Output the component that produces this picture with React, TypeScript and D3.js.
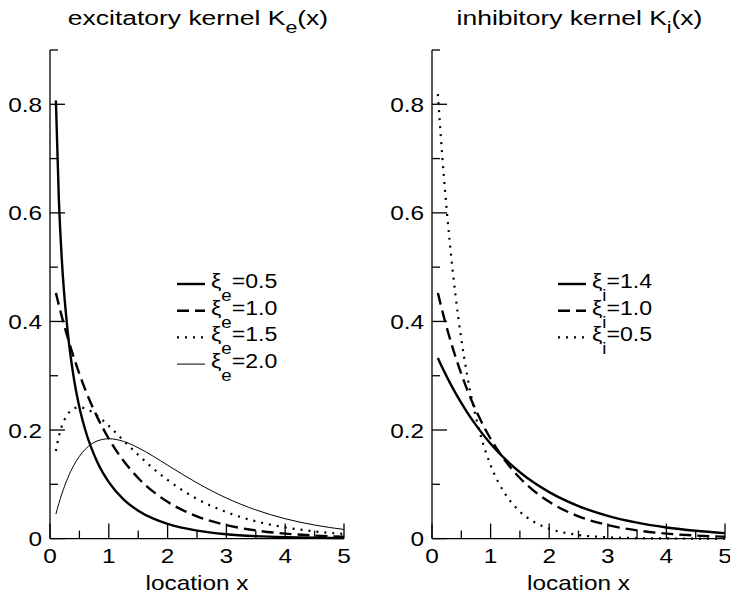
import React from 'react';
import * as d3 from 'd3';

const xGrid = [0.1, 0.15, 0.2, 0.3, 0.4, 0.5, 0.6, 0.8, 1, 1.25, 1.5, 1.75, 2, 2.5, 3, 3.5, 4, 4.5, 5];
const excXi05 = [0.807, 0.627, 0.516, 0.382, 0.299, 0.242, 0.2, 0.142, 0.104, 0.0722, 0.0514, 0.0371, 0.027, 0.0146, 0.0081, 0.0046, 0.0026, 0.0015, 0.00085];
const excXi10 = [0.4524, 0.4304, 0.4094, 0.3704, 0.3352, 0.3033, 0.2744, 0.2247, 0.1839, 0.1433, 0.1116, 0.0869, 0.0677, 0.041, 0.0249, 0.0151, 0.0092, 0.0056, 0.0034];
const excXi15 = [0.1614, 0.1881, 0.2066, 0.2289, 0.2392, 0.242, 0.2398, 0.2267, 0.2076, 0.1807, 0.1542, 0.1297, 0.108, 0.0732, 0.0487, 0.0319, 0.0207, 0.0133, 0.0085];
const excXi20 = [0.0452, 0.0646, 0.0819, 0.1111, 0.1341, 0.1516, 0.1646, 0.1797, 0.1839, 0.1791, 0.1673, 0.1521, 0.1353, 0.1026, 0.0747, 0.0529, 0.0366, 0.025, 0.0168];
const inhXi14 = [0.3325, 0.3208, 0.3096, 0.2882, 0.2684, 0.2499, 0.2326, 0.2017, 0.1748, 0.1462, 0.1223, 0.1023, 0.0856, 0.0599, 0.0419, 0.0293, 0.0205, 0.0144, 0.01];
const inhXi10 = [0.4524, 0.4304, 0.4094, 0.3704, 0.3352, 0.3033, 0.2744, 0.2247, 0.1839, 0.1433, 0.1116, 0.0869, 0.0677, 0.041, 0.0249, 0.0151, 0.0092, 0.0056, 0.0034];
const inhXi05 = [0.8187, 0.7408, 0.6703, 0.5488, 0.4493, 0.3679, 0.3012, 0.2019, 0.1353, 0.0821, 0.0498, 0.0302, 0.0183, 0.0067, 0.0025, 0.0009, 0.0003, 0.0001, 0.00005];

const excLabels = ['0.5', '1.0', '1.5', '2.0'];
const inhLabels = ['1.4', '1.0', '0.5'];
const yMajorTicks = [0, 0.2, 0.4, 0.6, 0.8];
const yMajorLabels = ['0', '0.2', '0.4', '0.6', '0.8'];
const yMinorTicks = [0.1, 0.3, 0.5, 0.7, 0.9];
const xMajorTicks = [0, 1, 2, 3, 4, 5];
const xMajorLabels = ['0', '1', '2', '3', '4', '5'];
const xMinorTicks = [0.5, 1.5, 2.5, 3.5, 4.5];

const FONT = '"Liberation Sans", Arial, Helvetica, sans-serif';

type Style = { w: number; dash?: string };
const STYLES: Record<string, Style> = {
  solid: { w: 2.4 },
  dashed: { w: 2.4, dash: '12,6' },
  dotted: { w: 2.2, dash: '2,6' },
  thin: { w: 1 },
};

const yScale = d3.scaleLinear().domain([0, 0.9]).range([538.6, 50]);

function T({ x, y, anchor = 'start', size = 21, sx = 1.16, children }: {
  x: number; y: number; anchor?: string; size?: number; sx?: number; children: React.ReactNode;
}) {
  return (
    <text transform={`translate(${x},${y}) scale(${sx},1)`} textAnchor={anchor}
      fontSize={size} fontFamily={FONT} fill="#000">{children}</text>
  );
}

type Series = { values: number[]; style: string; label: string };

function Panel({ x0, x1, title, sub, series, sym, legendX }: {
  x0: number; x1: number; title: string; sub: string; series: Series[]; sym: string; legendX: number;
}) {
  const xScale = d3.scaleLinear().domain([0, 5]).range([x0, x1]);
  const line = d3.line<number>()
    .x((_, i) => xScale(xGrid[i]))
    .y((d) => yScale(d))
    .curve(d3.curveMonotoneX);
  const y0 = yScale(0);
  const cx = (x0 + x1) / 2;
  return (
    <g>
      <T x={cx + 1} y={25} anchor="middle" sx={1.26}>
        {title}<tspan dy={8} fontSize={17}>{sub}</tspan><tspan dy={-8}>(x)</tspan>
      </T>
      {series.map((s, i) => {
        const st = STYLES[s.style];
        return (
          <path key={i} d={line(s.values) || ''} fill="none" stroke="#000"
            strokeWidth={st.w} strokeDasharray={st.dash} />
        );
      })}
      <line x1={x0} x2={x0} y1={yScale(0.9)} y2={y0} stroke="#000" strokeWidth={1.3} />
      <line x1={x0} x2={x1} y1={y0} y2={y0} stroke="#000" strokeWidth={1.3} />
      {yMajorTicks.map((t, i) => (
        <g key={'ym' + i}>
          <line x1={x0} x2={x0 + 15} y1={yScale(t)} y2={yScale(t)} stroke="#000" strokeWidth={1.3} />
          <T x={x0 - 8} y={yScale(t) + 7.5} anchor="end">{yMajorLabels[i]}</T>
        </g>
      ))}
      {yMinorTicks.map((t, i) => (
        <line key={'yn' + i} x1={x0} x2={x0 + 8} y1={yScale(t)} y2={yScale(t)} stroke="#000" strokeWidth={1.3} />
      ))}
      {xMajorTicks.map((t, i) => (
        <g key={'xm' + i}>
          <line x1={xScale(t)} x2={xScale(t)} y1={y0} y2={y0 - 15} stroke="#000" strokeWidth={1.3} />
          <T x={xScale(t)} y={563} anchor="middle">{xMajorLabels[i]}</T>
        </g>
      ))}
      {xMinorTicks.map((t, i) => (
        <line key={'xn' + i} x1={xScale(t)} x2={xScale(t)} y1={y0} y2={y0 - 8} stroke="#000" strokeWidth={1.3} />
      ))}
      <T x={cx} y={590} anchor="middle">location x</T>
      {series.map((s, i) => {
        const st = STYLES[s.style];
        const ly = 284 + i * 26.7;
        return (
          <g key={'lg' + i}>
            <line x1={legendX} x2={legendX + 28} y1={ly} y2={ly} stroke="#000" strokeWidth={st.w} strokeDasharray={st.dash} />
            <T x={legendX + 34} y={ly + 4} sx={1.1}>
              ξ<tspan dy={13} fontSize={17}>{sym}</tspan><tspan dy={-13}>={s.label}</tspan>
            </T>
          </g>
        );
      })}
    </g>
  );
}

export default function App() {
  const exc: Series[] = [
    { values: excXi05, style: 'solid', label: excLabels[0] },
    { values: excXi10, style: 'dashed', label: excLabels[1] },
    { values: excXi15, style: 'dotted', label: excLabels[2] },
    { values: excXi20, style: 'thin', label: excLabels[3] },
  ];
  const inh: Series[] = [
    { values: inhXi14, style: 'solid', label: inhLabels[0] },
    { values: inhXi10, style: 'dashed', label: inhLabels[1] },
    { values: inhXi05, style: 'dotted', label: inhLabels[2] },
  ];
  return (
    <svg width={730} height={599} style={{ position: 'absolute', left: 0, top: 0, background: '#fff' }}>
      <rect width={730} height={599} fill="#fff" />
      <Panel x0={50} x1={344} title="excitatory kernel K" sub="e" series={exc} sym="e" legendX={177} />
      <Panel x0={432} x1={725} title="inhibitory kernel K" sub="i" series={inh} sym="i" legendX={558} />
    </svg>
  );
}
